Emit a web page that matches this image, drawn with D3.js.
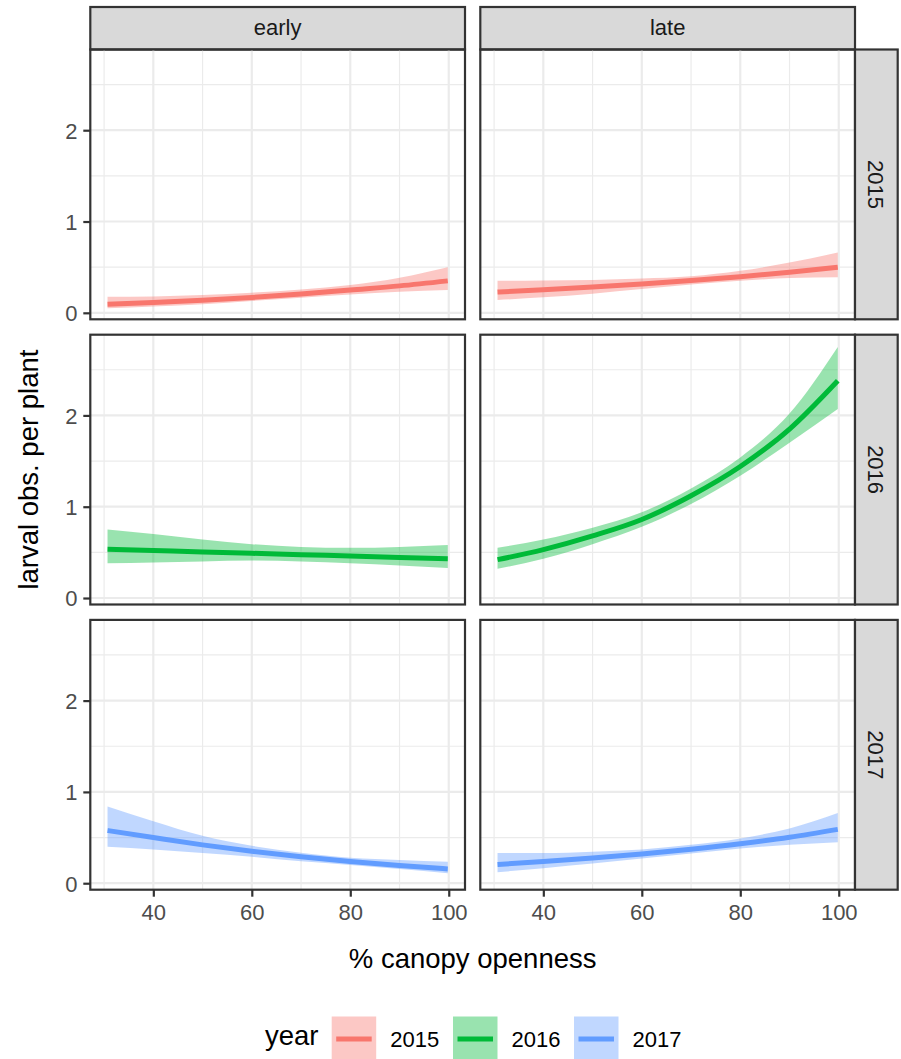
<!DOCTYPE html>
<html><head><meta charset="utf-8">
<script src="https://cdn.jsdelivr.net/npm/d3@7"></script>
<style>body{margin:0;background:#fff} svg{display:block} text{font-family:"Liberation Sans",Arial,Helvetica,sans-serif}</style>
</head><body><svg id="c" width="901" height="1059"></svg>
<script>
// ---------- data ----------
const years = ["2015", "2016", "2017"];
const timings = ["early", "late"];
const yearColors = ["#F8766D", "#00BA38", "#619CFF"];
const canopy = [30.7, 40, 50, 60, 70, 80, 90, 99.8];
const xTickLabels = [40, 60, 80, 100];
const yTickLabels = [0, 1, 2];

const fit2015early = [0.095, 0.113, 0.137, 0.168, 0.205, 0.25, 0.295, 0.35];
const lo2015early  = [0.05, 0.07, 0.095, 0.13, 0.165, 0.20, 0.23, 0.25];
const hi2015early  = [0.175, 0.18, 0.195, 0.22, 0.255, 0.305, 0.385, 0.50];

const fit2015late = [0.227, 0.252, 0.282, 0.316, 0.354, 0.396, 0.444, 0.50];
const lo2015late  = [0.14, 0.17, 0.21, 0.26, 0.31, 0.35, 0.38, 0.39];
const hi2015late  = [0.35, 0.355, 0.36, 0.375, 0.40, 0.46, 0.55, 0.66];

const fit2016early = [0.533, 0.52, 0.505, 0.49, 0.475, 0.46, 0.445, 0.43];
const lo2016early  = [0.38, 0.39, 0.40, 0.41, 0.40, 0.38, 0.355, 0.33];
const hi2016early  = [0.75, 0.70, 0.64, 0.59, 0.56, 0.55, 0.56, 0.58];

const fit2016late = [0.42, 0.53, 0.68, 0.86, 1.12, 1.44, 1.85, 2.38];
const lo2016late  = [0.32, 0.43, 0.59, 0.78, 1.03, 1.34, 1.70, 2.07];
const hi2016late  = [0.55, 0.64, 0.77, 0.94, 1.20, 1.54, 2.02, 2.75];

const fit2017early = [0.577, 0.50, 0.42, 0.35, 0.29, 0.237, 0.194, 0.157];
const lo2017early  = [0.40, 0.37, 0.33, 0.29, 0.24, 0.20, 0.155, 0.11];
const hi2017early  = [0.84, 0.68, 0.52, 0.41, 0.335, 0.28, 0.255, 0.235];

const fit2017late = [0.205, 0.237, 0.275, 0.32, 0.373, 0.433, 0.504, 0.59];
const lo2017late  = [0.12, 0.165, 0.215, 0.27, 0.325, 0.38, 0.42, 0.45];
const hi2017late  = [0.33, 0.33, 0.345, 0.37, 0.42, 0.49, 0.60, 0.77];

const series = {
  "2015": {early: [fit2015early, lo2015early, hi2015early], late: [fit2015late, lo2015late, hi2015late]},
  "2016": {early: [fit2016early, lo2016early, hi2016early], late: [fit2016late, lo2016late, hi2016late]},
  "2017": {early: [fit2017early, lo2017early, hi2017early], late: [fit2017late, lo2017late, hi2017late]}
};

// ---------- layout ----------
const colLeft = [90.3, 480.3], colW = 374.7;
const rowTop = [49.5, 334.7, 619.9], rowH = 269.8;
const stripTop = 7, stripRight = 897.7;
const xDomain = [27.2, 103.3], yDomain = [-0.071, 2.884];

const svg = d3.select("#c");
const gridCol = "#EBEBEB", dark = "#333333";

timings.forEach((tm, ci) => {
  const x = d3.scaleLinear().domain(xDomain).range([colLeft[ci], colLeft[ci] + colW]);
  svg.append("rect").attr("x", colLeft[ci]).attr("y", stripTop).attr("width", colW)
    .attr("height", rowTop[0] - stripTop).attr("fill", "#D9D9D9").attr("stroke", dark).attr("stroke-width", 2.2);
  svg.append("text").attr("x", colLeft[ci] + colW / 2).attr("y", 34.5).attr("text-anchor", "middle")
    .attr("font-size", 22).attr("fill", "#1A1A1A").text(tm);

  years.forEach((yr, ri) => {
    const y = d3.scaleLinear().domain(yDomain).range([rowTop[ri] + rowH, rowTop[ri]]);
    const g = svg.append("g");
    const xMinor = [30, 50, 70, 90], yMinor = [0.5, 1.5, 2.5];
    xMinor.forEach(v => g.append("line").attr("x1", x(v)).attr("x2", x(v)).attr("y1", rowTop[ri]).attr("y2", rowTop[ri] + rowH)
      .attr("stroke", gridCol).attr("stroke-width", 1.2));
    yMinor.forEach(v => g.append("line").attr("y1", y(v)).attr("y2", y(v)).attr("x1", colLeft[ci]).attr("x2", colLeft[ci] + colW)
      .attr("stroke", gridCol).attr("stroke-width", 1.2));
    xTickLabels.forEach(v => g.append("line").attr("x1", x(v)).attr("x2", x(v)).attr("y1", rowTop[ri]).attr("y2", rowTop[ri] + rowH)
      .attr("stroke", gridCol).attr("stroke-width", 2.2));
    yTickLabels.forEach(v => g.append("line").attr("y1", y(v)).attr("y2", y(v)).attr("x1", colLeft[ci]).attr("x2", colLeft[ci] + colW)
      .attr("stroke", gridCol).attr("stroke-width", 2.2));

    const [fit, lo, hi] = series[yr][tm];
    const pts = canopy.map((c, i) => ({c, f: fit[i], l: lo[i], h: hi[i]}));
    const area = d3.area().x(d => x(d.c)).y0(d => y(d.l)).y1(d => y(d.h)).curve(d3.curveMonotoneX);
    const line = d3.line().x(d => x(d.c)).y(d => y(d.f)).curve(d3.curveMonotoneX);
    g.append("path").attr("d", area(pts)).attr("fill", yearColors[ri]).attr("fill-opacity", 0.4);
    g.append("path").attr("d", line(pts)).attr("fill", "none").attr("stroke", yearColors[ri]).attr("stroke-width", 5);

    g.append("rect").attr("x", colLeft[ci]).attr("y", rowTop[ri]).attr("width", colW).attr("height", rowH)
      .attr("fill", "none").attr("stroke", dark).attr("stroke-width", 2.2);

    if (ci === 0) {
      const ax = svg.append("g").attr("transform", `translate(${colLeft[ci]},0)`)
        .call(d3.axisLeft(y).tickValues(yTickLabels).tickFormat(d3.format("d")).tickSize(7).tickPadding(5.8));
      ax.select(".domain").remove();
      ax.selectAll(".tick line").attr("stroke", dark).attr("stroke-width", 2.2);
      ax.selectAll(".tick text").attr("fill", "#4D4D4D").attr("font-size", 22)
        .attr("font-family", '"Liberation Sans",Arial,sans-serif').attr("dy", "0.36em");
    }
    if (ri === 2) {
      const ax = svg.append("g").attr("transform", `translate(0,${rowTop[ri] + rowH})`)
        .call(d3.axisBottom(x).tickValues(xTickLabels).tickFormat(d3.format("d")).tickSize(7).tickPadding(7.2));
      ax.select(".domain").remove();
      ax.selectAll(".tick line").attr("stroke", dark).attr("stroke-width", 2.2);
      ax.selectAll(".tick text").attr("fill", "#4D4D4D").attr("font-size", 22)
        .attr("font-family", '"Liberation Sans",Arial,sans-serif');
    }
    if (ci === 1) {
      const sx = colLeft[1] + colW;
      svg.append("rect").attr("x", sx).attr("y", rowTop[ri]).attr("width", stripRight - sx).attr("height", rowH)
        .attr("fill", "#D9D9D9").attr("stroke", dark).attr("stroke-width", 2.2);
      const cx = sx + (stripRight - sx) / 2 - 7.9, cy = rowTop[ri] + rowH / 2;
      svg.append("text").attr("transform", `translate(${cx},${cy}) rotate(90)`).attr("text-anchor", "middle")
        .attr("font-size", 22).attr("fill", "#1A1A1A").text(yr);
    }
  });
});

svg.append("text").attr("x", (colLeft[0] + colLeft[1] + colW) / 2).attr("y", 968).attr("text-anchor", "middle")
  .attr("font-size", 27.5).attr("fill", "#000").text("% canopy openness");
svg.append("text").attr("transform", `translate(38,${rowTop[0] + (rowTop[2] + rowH - rowTop[0]) / 2}) rotate(-90)`)
  .attr("text-anchor", "middle").attr("font-size", 27.5).attr("fill", "#000").text("larval obs. per plant");

const lg = svg.append("g");
lg.append("text").attr("x", 265).attr("y", 1045).attr("font-size", 27.5).attr("fill", "#000").text("year");
const keyX = [331.7, 453, 574], keyW = 44.5, keyY = 1016.5, keyH = 45;
years.forEach((yr, i) => {
  lg.append("rect").attr("x", keyX[i]).attr("y", keyY).attr("width", keyW).attr("height", keyH)
    .attr("fill", yearColors[i]).attr("fill-opacity", 0.4);
  lg.append("line").attr("x1", keyX[i] + 4.5).attr("x2", keyX[i] + keyW - 4.5)
    .attr("y1", keyY + 22.5).attr("y2", keyY + 22.5).attr("stroke", yearColors[i]).attr("stroke-width", 5);
  lg.append("text").attr("x", keyX[i] + 58.5).attr("y", 1047).attr("font-size", 22).attr("fill", "#000").text(yr);
});
</script></body></html>
